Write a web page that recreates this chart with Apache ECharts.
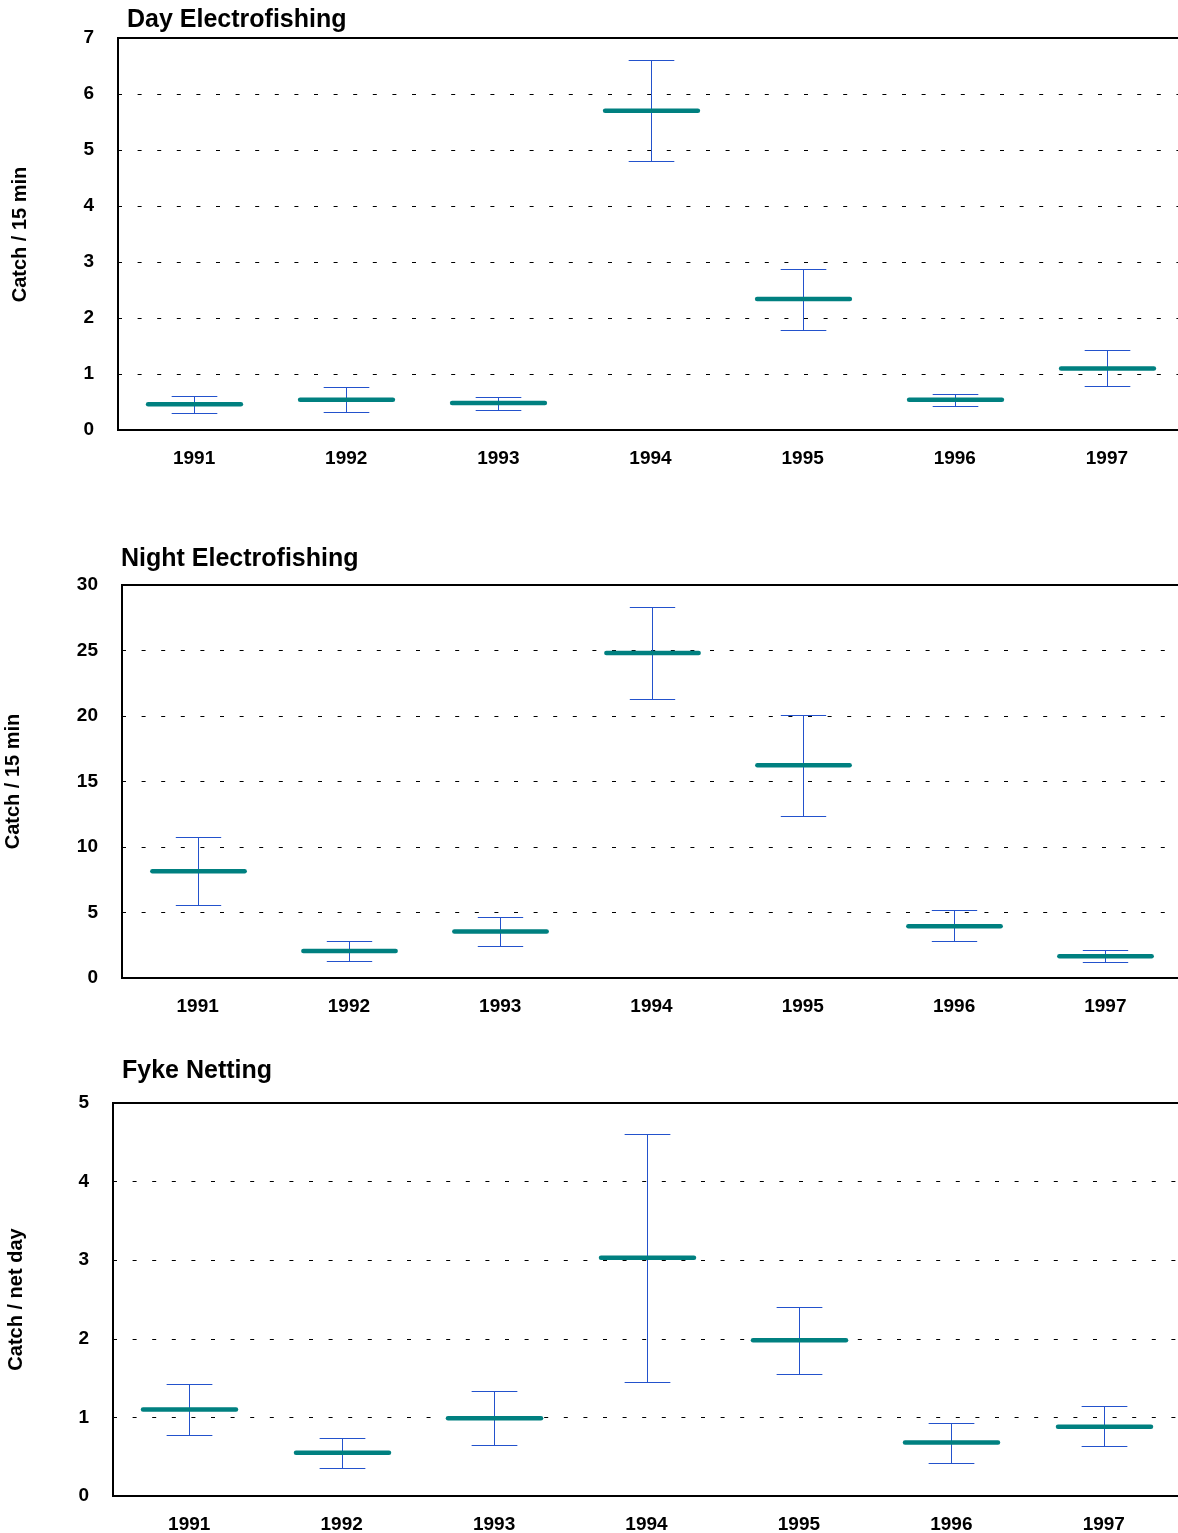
<!DOCTYPE html>
<html>
<head>
<meta charset="utf-8">
<script src="https://cdn.jsdelivr.net/npm/echarts@6/dist/echarts.min.js"></script>
<style>
html,body{margin:0;padding:0;background:#fff;overflow:hidden;}
#chart{width:1178px;height:1533px;}
</style>
</head>
<body>
<div id="chart"></div>
<script>
// ---- data ----
const categories = ['1991','1992','1993','1994','1995','1996','1997'];

const dayMean  = [0.46, 0.54, 0.48, 5.70, 2.34, 0.54, 1.10];
const dayLower = [0.30, 0.32, 0.36, 4.80, 1.79, 0.42, 0.78];
const dayUpper = [0.61, 0.76, 0.59, 6.60, 2.88, 0.65, 1.42];

const nightMean  = [8.15, 2.06, 3.55, 24.80, 16.25, 3.95, 1.66];
const nightLower = [5.58, 1.30, 2.45, 21.27, 12.38, 2.80, 1.20];
const nightUpper = [10.75, 2.86, 4.62, 28.30, 20.10, 5.17, 2.10];

const fykeMean  = [1.10, 0.55, 0.99, 3.03, 1.98, 0.68, 0.88];
const fykeLower = [0.78, 0.35, 0.65, 1.45, 1.55, 0.42, 0.63];
const fykeUpper = [1.42, 0.74, 1.33, 4.61, 2.40, 0.93, 1.14];

const titles = ['Day Electrofishing', 'Night Electrofishing', 'Fyke Netting'];
const yNames = ['Catch / 15 min', 'Catch / 15 min', 'Catch / net day'];
const yMax = [7, 30, 5];
const yInterval = [1, 5, 1];

// ---- chart ----
const FONT = 'Liberation Sans, Arial, sans-serif';
const chart = echarts.init(document.getElementById('chart'), null, {renderer: 'canvas'});

function build(mean, lower, upper) {
  return categories.map((c, i) => [i, mean[i], lower[i], upper[i]]);
}

function renderItem(params, api) {
  const idx = api.value(0);
  const pm = api.coord([idx, api.value(1)]);
  const plo = api.coord([idx, api.value(2)]);
  const phi = api.coord([idx, api.value(3)]);
  const band = api.size([1, 0])[0];
  const cx = Math.round(pm[0]) + 0.5;
  const capHalf = band * 0.15;
  const meanHalf = band * 0.305;
  const ylo = Math.round(plo[1]) + 0.5;
  const yhi = Math.round(phi[1]) + 0.5;
  const blue = '#2352cc';
  return {
    type: 'group',
    children: [
      {type: 'line', shape: {x1: cx, y1: yhi, x2: cx, y2: ylo}, style: {stroke: blue, lineWidth: 1}},
      {type: 'line', shape: {x1: cx - capHalf, y1: yhi, x2: cx + capHalf, y2: yhi}, style: {stroke: blue, lineWidth: 1}},
      {type: 'line', shape: {x1: cx - capHalf, y1: ylo, x2: cx + capHalf, y2: ylo}, style: {stroke: blue, lineWidth: 1}},
      {type: 'line', shape: {x1: cx - meanHalf, y1: pm[1], x2: cx + meanHalf, y2: pm[1]},
       style: {stroke: '#008080', lineWidth: 4.5, lineCap: 'round'}}
    ]
  };
}

const grids = [
  {left: 118, top: 38, width: 1065, height: 392},
  {left: 122, top: 585, width: 1059, height: 393},
  {left: 113, top: 1103, width: 1067, height: 393}
];
grids.forEach(g => {
  g.show = true; g.borderColor = '#000'; g.borderWidth = 2; g.backgroundColor = 'transparent';
  g.containLabel = false; g.outerBoundsMode = 'none';
});

const xAxes = grids.map((g, i) => ({
  type: 'category',
  gridIndex: i,
  data: categories,
  axisLine: {show: true, lineStyle: {color: '#000', width: 2}},
  axisTick: {show: false},
  axisLabel: {fontFamily: FONT, fontWeight: 'bold', fontSize: 19, color: '#000', margin: 19, interval: 0},
  splitLine: {show: false}
}));

const yAxes = grids.map((g, i) => ({
  type: 'value',
  gridIndex: i,
  min: 0,
  max: yMax[i],
  interval: yInterval[i],
  axisLine: {show: true, lineStyle: {color: '#000', width: 2}},
  axisTick: {show: false},
  axisLabel: {fontFamily: FONT, fontWeight: 'bold', fontSize: 19, color: '#000', margin: 24, padding: [5, 0, 0, 0]},
  splitLine: {show: true, lineStyle: {color: '#000', width: 1, type: [4, 15.6]}}
}));

const seriesData = [
  build(dayMean, dayLower, dayUpper),
  build(nightMean, nightLower, nightUpper),
  build(fykeMean, fykeLower, fykeUpper)
];

const series = seriesData.map((d, i) => ({
  type: 'custom',
  xAxisIndex: i,
  yAxisIndex: i,
  renderItem: renderItem,
  data: d,
  encode: {x: 0, y: [1, 2, 3]},
  clip: false,
  z: 5
}));

const titlePos = [[127, 20], [121, 559.5], [122, 1071]];
const namePos = [[20, 234.5], [13, 781.5], [16, 1299.5]];

const graphic = [];
titles.forEach((t, i) => {
  graphic.push({
    type: 'text', x: titlePos[i][0], y: titlePos[i][1],
    style: {text: t, fontFamily: FONT, fontWeight: 'bold', fontSize: 25, fill: '#000',
            textAlign: 'left', textVerticalAlign: 'middle'}
  });
});
yNames.forEach((t, i) => {
  graphic.push({
    type: 'text', x: namePos[i][0], y: namePos[i][1], rotation: Math.PI / 2,
    style: {text: t, fontFamily: FONT, fontWeight: 'bold', fontSize: 20, fill: '#000',
            textAlign: 'center', textVerticalAlign: 'middle'}
  });
});

chart.setOption({
  backgroundColor: '#fff',
  animation: false,
  grid: grids,
  xAxis: xAxes,
  yAxis: yAxes,
  series: series,
  graphic: graphic
});
</script>
</body>
</html>
